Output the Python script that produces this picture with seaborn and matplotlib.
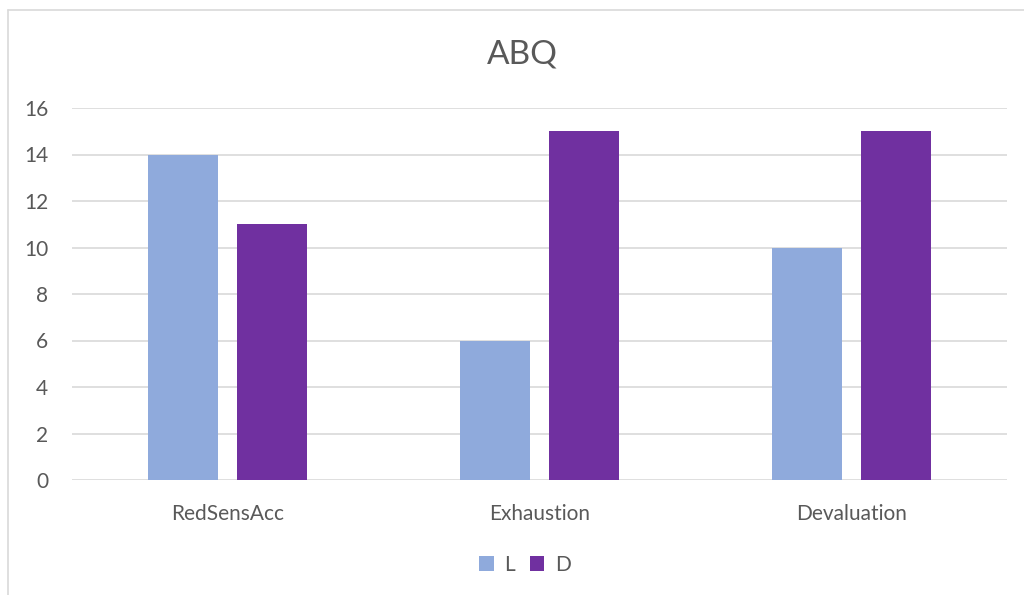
import matplotlib
matplotlib.use("Agg")
import matplotlib.pyplot as plt
import seaborn as sns
import pandas as pd
from matplotlib.lines import Line2D
from matplotlib.patches import Patch

categories = ["RedSensAcc", "Exhaustion", "Devaluation"]
series_names = ["L", "D"]
L_values = [14, 6, 10]
D_values = [11, 15, 15]
yticks = [0, 2, 4, 6, 8, 10, 12, 14, 16]
title = "ABQ"

colors = {"L": "#8FAADC", "D": "#7030A0"}
text_color = "#595959"
grid_color = "#D9D9D9"

df = pd.DataFrame({
    "category": categories * 2,
    "series": ["L"] * 3 + ["D"] * 3,
    "value": L_values + D_values,
})

sns.set_theme(style="white")
plt.rcParams["font.family"] = ["Lato", "DejaVu Sans"]

fig = plt.figure(figsize=(10.24, 5.95), dpi=100)
ax = fig.add_axes([72 / 1024, 1 - 480 / 595, (1007 - 72) / 1024, (480 - 108) / 595])

sns.barplot(data=df, x="category", y="value", hue="series", order=categories,
            hue_order=series_names, palette=colors, width=0.57, gap=0.213,
            saturation=1, linewidth=0, ax=ax, legend=False, zorder=3)

ax.set_ylim(0, 16)
ax.set_xlim(-0.5, 2.5)
ax.set_yticks(yticks)
ax.set_yticklabels([str(t) for t in yticks])
ax.yaxis.grid(True, color=grid_color, linewidth=1.2, zorder=0)
ax.set_axisbelow(True)
for s in ax.spines.values():
    s.set_visible(False)
ax.tick_params(axis="both", length=0, labelsize=15, colors=text_color)
ax.tick_params(axis="y", pad=17)
ax.tick_params(axis="x", pad=17)
ax.set_xlabel("")
ax.set_ylabel("")

fig.text(522 / 1024, 1 - 55 / 595, title, ha="center", va="center", fontsize=24, color=text_color)

handles = [Patch(facecolor=colors[s], edgecolor="none") for s in series_names]
leg = fig.legend(handles, series_names, loc="center", bbox_to_anchor=(525 / 1024, 1 - 565 / 595),
                 ncol=2, frameon=False, fontsize=15, handlelength=0.7, handleheight=0.7,
                 handletextpad=0.5, columnspacing=0.7)
for t in leg.get_texts():
    t.set_color(text_color)

# chart border (left and top edges visible)
fig.add_artist(Line2D([7.5 / 1024, 7.5 / 1024], [0, 1 - 9.5 / 595], transform=fig.transFigure,
                      color=grid_color, linewidth=1.2))
fig.add_artist(Line2D([7.5 / 1024, 1], [1 - 9.5 / 595, 1 - 9.5 / 595], transform=fig.transFigure,
                      color=grid_color, linewidth=1.2))

fig.savefig("out.png", dpi=100)
